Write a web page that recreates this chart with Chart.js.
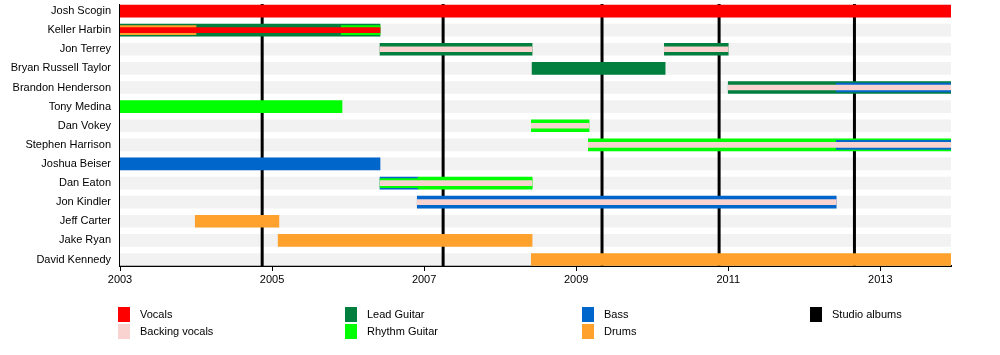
<!DOCTYPE html>
<html>
<head>
<meta charset="utf-8">
<script src="https://cdn.jsdelivr.net/npm/chart.js@4/dist/chart.umd.min.js"></script>
<style>
  body { margin: 0; background: #fff; font-family: "Liberation Sans", Arial, sans-serif; }
  #wrap { position: relative; width: 1000px; height: 292px; }
  #legend { position: absolute; left: 0; top: 0; width: 1000px; height: 355px; pointer-events: none; }
  .item { position: absolute; font-size: 11px; color: #000; height: 15px; line-height: 15px; }
  .item span { display: inline-block; width: 12px; height: 15px; vertical-align: top; margin-right: 10px; }
</style>
</head>
<body>
<div id="wrap"><canvas id="chart"></canvas></div>
<div id="legend"></div>
<script>
// Band members, top to bottom
const members = [
    'Josh Scogin', 'Keller Harbin', 'Jon Terrey', 'Bryan Russell Taylor',
    'Brandon Henderson', 'Tony Medina', 'Dan Vokey', 'Stephen Harrison',
    'Joshua Beiser', 'Dan Eaton', 'Jon Kindler', 'Jeff Carter',
    'Jake Ryan', 'David Kennedy'
];

const START = 2003;
const END = 2013.93;
const tickYears = [2003, 2005, 2007, 2009, 2011, 2013];
const albums = [2004.87, 2007.25, 2009.34, 2010.88, 2012.66];

// [member, role, from, to] - primary role (full width bar)
const mainBars = [
    ['Josh Scogin', 'Vocals', 2003, END],
    ['Keller Harbin', 'Lead Guitar', 2003, 2006.42],
    ['Jon Terrey', 'Lead Guitar', 2006.42, 2008.42],
    ['Jon Terrey', 'Lead Guitar', 2010.16, 2011.0],
    ['Bryan Russell Taylor', 'Lead Guitar', 2008.42, 2010.17],
    ['Brandon Henderson', 'Lead Guitar', 2011.0, END],
    ['Tony Medina', 'Rhythm Guitar', 2003, 2005.92],
    ['Dan Vokey', 'Rhythm Guitar', 2008.41, 2009.17],
    ['Stephen Harrison', 'Rhythm Guitar', 2009.16, END],
    ['Joshua Beiser', 'Bass', 2003, 2006.42],
    ['Dan Eaton', 'Bass', 2006.42, 2006.92],
    ['Dan Eaton', 'Rhythm Guitar', 2006.92, 2008.42],
    ['Jon Kindler', 'Bass', 2006.91, 2012.42],
    ['Jeff Carter', 'Drums', 2003.99, 2005.09],
    ['Jake Ryan', 'Drums', 2005.08, 2008.42],
    ['David Kennedy', 'Drums', 2008.41, END]
];

// secondary role (medium bar)
const secondBars = [
    ['Keller Harbin', 'Drums', 2003, 2004.0],
    ['Keller Harbin', 'Rhythm Guitar', 2005.91, 2006.42],
    ['Brandon Henderson', 'Bass', 2012.42, END],
    ['Stephen Harrison', 'Bass', 2012.42, END],
    ['Dan Eaton', 'Rhythm Guitar', 2006.42, 2008.42]
];

// vocals (thin bar)
const thirdBars = [
    ['Keller Harbin', 'Vocals', 2003, 2006.42],
    ['Jon Terrey', 'Backing vocals', 2006.42, 2008.42],
    ['Jon Terrey', 'Backing vocals', 2010.16, 2011.0],
    ['Brandon Henderson', 'Backing vocals', 2011.0, END],
    ['Dan Vokey', 'Backing vocals', 2008.41, 2009.17],
    ['Stephen Harrison', 'Backing vocals', 2009.16, END],
    ['Dan Eaton', 'Backing vocals', 2006.42, 2008.42],
    ['Jon Kindler', 'Backing vocals', 2006.91, 2012.42]
];

const roleColors = {
    'Vocals': '#ff0000',
    'Backing vocals': '#f9d3d0',
    'Lead Guitar': '#007f3f',
    'Rhythm Guitar': '#00ff00',
    'Bass': '#0066cc',
    'Drums': '#ffa22d',
    'Studio albums': '#000000'
};

const legendCols = [
    ['Vocals', 'Backing vocals'],
    ['Lead Guitar', 'Rhythm Guitar'],
    ['Bass', 'Drums'],
    ['Studio albums']
];

function toPoints(rows) {
    return rows.map(r => ({ y: members.indexOf(r[0]), x: [r[2], r[3]], role: r[1] }));
}

function layer(rows, thickness, order) {
    return {
        data: toPoints(rows),
        backgroundColor: ctx => ctx.raw ? roleColors[ctx.raw.role] : '#000',
        barThickness: thickness,
        grouped: false,
        borderWidth: 0,
        order: order
    };
}

// gray row stripes behind everything
const stripes = {
    data: members.map((m, i) => ({ y: i, x: [START, END] })),
    backgroundColor: '#f2f2f2',
    barThickness: 12,
    grouped: false,
    borderWidth: 0,
    order: 10
};

// left axis line and studio album lines, drawn right after the stripes
const albumLines = {
    id: 'albumLines',
    afterDatasetDraw(chart, args) {
        if (args.index !== 0) return;
        const ctx = chart.ctx;
        const area = chart.chartArea;
        ctx.save();
        ctx.strokeStyle = '#000';
        ctx.lineWidth = 1;
        ctx.beginPath();
        ctx.moveTo(area.left - 0.5, area.top);
        ctx.lineTo(area.left - 0.5, area.bottom);
        ctx.stroke();
        ctx.lineWidth = 3;
        albums.forEach(a => {
            const x = chart.scales.x.getPixelForValue(a);
            ctx.beginPath();
            ctx.moveTo(x, area.top);
            ctx.lineTo(x, area.bottom);
            ctx.stroke();
        });
        ctx.restore();
    }
};

new Chart(document.getElementById('chart'), {
    type: 'bar',
    data: {
        datasets: [
            stripes,
            layer(mainBars, 12, 3),
            layer(secondBars, 9, 2),
            layer(thirdBars, 5, 1)
        ]
    },
    options: {
        indexAxis: 'y',
        responsive: true,
        maintainAspectRatio: false,
        animation: false,
        layout: { padding: { top: 4, right: 49, left: 0, bottom: 0 } },
        plugins: { legend: { display: false }, tooltip: { enabled: false } },
        scales: {
            x: {
                type: 'linear',
                min: START,
                max: END,
                afterBuildTicks: s => { s.ticks = tickYears.map(v => ({ value: v })); },
                afterFit: s => { s.height = 26; s.paddingLeft = 0; s.paddingRight = 0; },
                grid: { drawOnChartArea: false, drawTicks: true, tickLength: 5, color: '#000' },
                border: { display: true, color: '#000', width: 2 },
                ticks: {
                    padding: 2,
                    color: '#000',
                    font: { family: 'Liberation Sans', size: 11 },
                    callback: v => String(v)
                }
            },
            y: {
                type: 'linear',
                reverse: true,
                offset: false,
                min: -0.37,
                max: 13.34,
                afterBuildTicks: s => { s.ticks = members.map((m, i) => ({ value: i })); },
                afterFit: s => { s.width = 120; s.paddingTop = 0; s.paddingBottom = 0; },
                grid: { display: false, drawTicks: false, offset: false },
                border: { display: false },
                ticks: {
                    padding: 9,
                    color: '#000',
                    font: { family: 'Liberation Sans', size: 11 },
                    callback: v => members[v]
                }
            }
        }
    },
    plugins: [albumLines]
});

// legend
const legend = document.getElementById('legend');
const colX = [118, 345, 582, 810];
const rowY = [307, 324];
legendCols.forEach((col, c) => {
    col.forEach((name, r) => {
        const el = document.createElement('div');
        el.className = 'item';
        el.style.left = colX[c] + 'px';
        el.style.top = rowY[r] + 'px';
        el.innerHTML = '<span style="background:' + roleColors[name] + '"></span>' + name;
        legend.appendChild(el);
    });
});
</script>
</body>
</html>
